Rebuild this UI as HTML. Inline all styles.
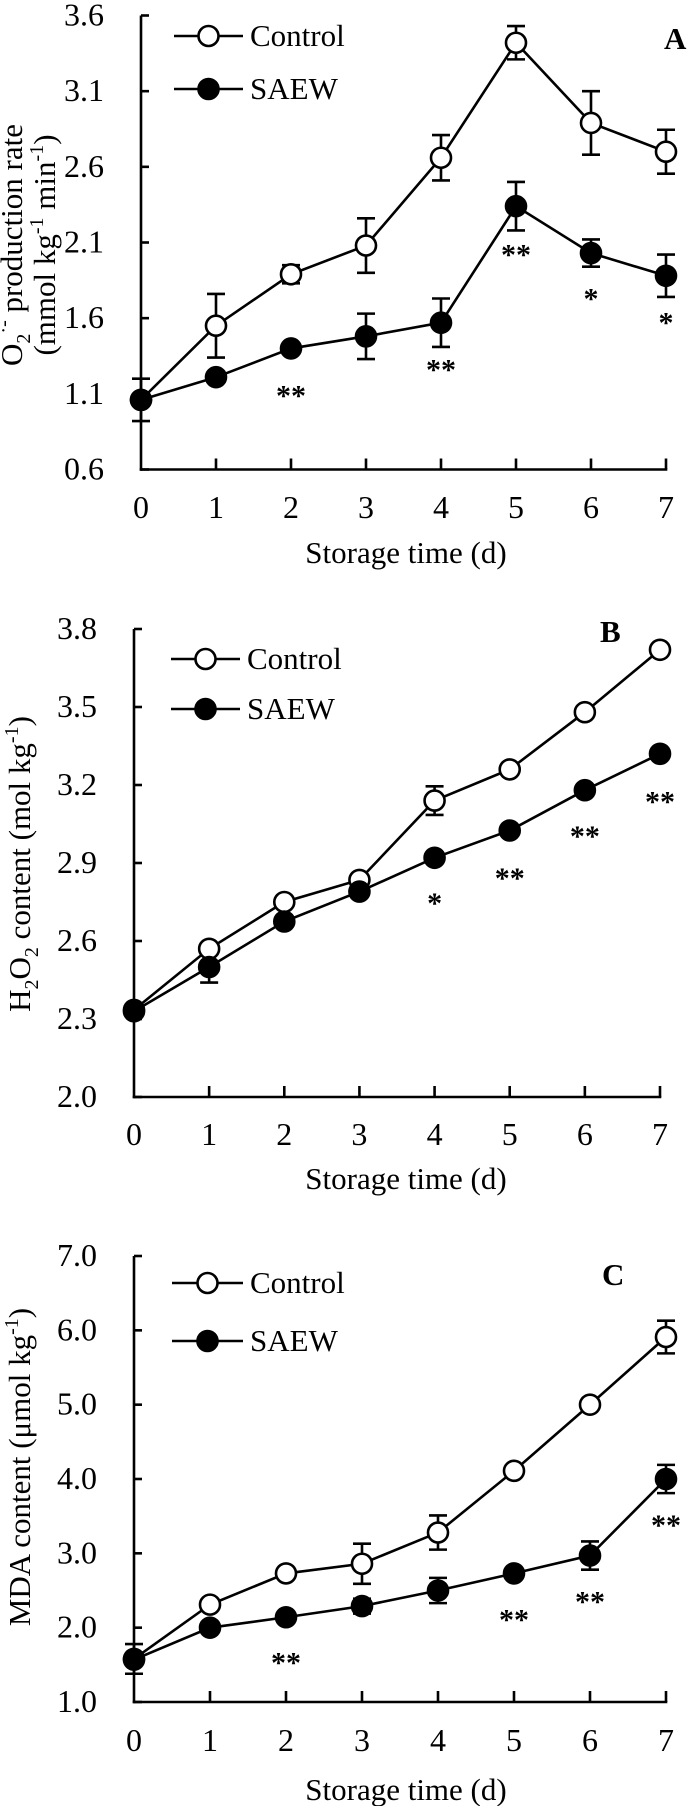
<!DOCTYPE html>
<html><head><meta charset="utf-8"><style>
html,body{margin:0;padding:0;background:#fff}
svg{display:block}
text{font-family:"Liberation Serif",serif;fill:#000}
</style></head><body>
<svg id="fig" width="691" height="1806" viewBox="0 0 691 1806" xmlns="http://www.w3.org/2000/svg"></svg>
<script>
const days = [0,1,2,3,4,5,6,7];
const xTickLabels = ["0","1","2","3","4","5","6","7"];
// Panel A
const aControl = [1.06,1.55,1.89,2.08,2.66,3.42,2.89,2.70];
const aControlErr = [0.03,0.21,0.06,0.18,0.15,0.11,0.21,0.145];
const aSaew = [1.06,1.21,1.40,1.48,1.57,2.34,2.03,1.88];
const aSaewErr = [0.14,0.03,0.03,0.15,0.16,0.16,0.09,0.14];
const aYTicks = ["0.6","1.1","1.6","2.1","2.6","3.1","3.6"];
const aStars = [[2,"**",1.13],[4,"**",1.30],[5,"**",2.06],[6,"*",1.77],[7,"*",1.61]];
// Panel B
const bControl = [2.335,2.57,2.75,2.835,3.14,3.26,3.48,3.72];
const bControlErr = [0.01,0.02,0.01,0.02,0.055,0.015,0.02,0.02];
const bSaew = [2.33,2.50,2.675,2.79,2.92,3.025,3.18,3.32];
const bSaewErr = [0.02,0.06,0.01,0.02,0.01,0.01,0.01,0.01];
const bYTicks = ["2.0","2.3","2.6","2.9","3.2","3.5","3.8"];
const bStars = [[4,"*",2.77],[5,"**",2.865],[6,"**",3.027],[7,"**",3.16]];
// Panel C
const cControl = [1.58,2.31,2.73,2.86,3.28,4.11,5.00,5.91];
const cControlErr = [0.2,0.05,0.04,0.27,0.23,0.05,0.06,0.22];
const cSaew = [1.57,2.00,2.14,2.29,2.50,2.73,2.97,4.00];
const cSaewErr = [0.05,0.03,0.03,0.1,0.17,0.03,0.19,0.19];
const cYTicks = ["1.0","2.0","3.0","4.0","5.0","6.0","7.0"];
const cStars = [[2,"**",1.61],[5,"**",2.19],[6,"**",2.43],[7,"**",3.46]];

const NS="http://www.w3.org/2000/svg";
const svg=document.getElementById('fig');
function mk(tag,attrs,parent){const e=document.createElementNS(NS,tag);for(const k in attrs)e.setAttribute(k,attrs[k]);(parent||svg).appendChild(e);return e;}

function panel(cfg){
  const g=mk('g',{});
  
  
  const ymin=parseFloat(cfg.yTicks[0]), ymax=parseFloat(cfg.yTicks[cfg.yTicks.length-1]);
  const X=d=>cfg.x0+(cfg.x7-cfg.x0)*d/7;
  const Y=v=>cfg.yBot-(cfg.yBot-cfg.yTop)*(v-ymin)/(ymax-ymin);
  const sw=2.6;
  const ya=mk('line',{x1:cfg.x0,y1:cfg.yTop,x2:cfg.x0,y2:cfg.yBot+1.3,stroke:'#000','stroke-width':sw},g);
  
  
  const xa=mk('line',{x1:cfg.x0-1.3,y1:cfg.yBot,x2:cfg.x7+1.3,y2:cfg.yBot,stroke:'#000','stroke-width':sw},g);
  
  
  cfg.yTicks.forEach(t=>{
    const y=Y(parseFloat(t));
    mk('line',{x1:cfg.x0,y1:y,x2:cfg.x0+8,y2:y,stroke:'#000','stroke-width':sw},g);
    const tx=mk('text',{x:cfg.labelRight,y:y+10,'font-size':32,'text-anchor':'end'},g);
    tx.textContent=t;
    
    
  });
  days.forEach((d,i)=>{
    const x=X(d);
    if(i>0) mk('line',{x1:x,y1:cfg.yBot,x2:x,y2:cfg.yBot-11,stroke:'#000','stroke-width':sw},g);
    const tx=mk('text',{x:x,y:cfg.xLabY,'font-size':32,'text-anchor':'middle'},g);
    tx.textContent=xTickLabels[i];
    
    
  });
  const xt=mk('text',{x:406,y:cfg.xTitleY,'font-size':31,'text-anchor':'middle'},g);
  xt.textContent='Storage time (d)';
  
  
  cfg.yTitle(g);
  [[cfg.ctrl,cfg.ctrlErr,'control'],[cfg.saew,cfg.saewErr,'saew']].forEach(([vals,errs,nm])=>{
    vals.forEach((v,i)=>{
      const x=X(days[i]),e=errs[i];
      const eb=mk('path',{d:`M${x},${Y(v+e)}V${Y(v-e)}M${x-9},${Y(v+e)}H${x+9}M${x-9},${Y(v-e)}H${x+9}`,stroke:'#000','stroke-width':sw,fill:'none'},g);
      
      
    });
    const pl=mk('polyline',{points:vals.map((v,i)=>X(days[i])+','+Y(v)).join(' '),stroke:'#000','stroke-width':sw,fill:'none'},g);
    
    
  });
  [[cfg.ctrl,'#fff','control'],[cfg.saew,'#000','saew']].forEach(([vals,fill,nm])=>{
    vals.forEach((v,i)=>{
      const c=mk('circle',{cx:X(days[i]),cy:Y(v),r:10,fill:fill,stroke:'#000','stroke-width':2.6},g);
      
      
    });
  });
  cfg.stars.forEach(s=>{
    const t=mk('text',{x:X(s[0]),y:Y(s[2])+16,'font-size':30,'text-anchor':'middle','font-weight':'bold'},g);
    t.textContent=s[1];
    
    
  });
  [[cfg.legY[0],'#fff','Control'],[cfg.legY[1],'#000','SAEW']].forEach(([y,fill,label])=>{
    const lg=mk('g',{},g);
    
    
    mk('line',{x1:cfg.legX[0],y1:y,x2:cfg.legX[1],y2:y,stroke:'#000','stroke-width':sw},lg);
    mk('circle',{cx:(cfg.legX[0]+cfg.legX[1])/2,cy:y,r:10,fill:fill,stroke:'#000','stroke-width':2.6},lg);
    const t=mk('text',{x:cfg.legX[1]+7,y:y+10,'font-size':31},lg);
    t.textContent=label;
  });
  const L=mk('text',{x:cfg.letter[0],y:cfg.letter[1]+11,'font-size':31,'font-weight':'bold'},g);
  L.textContent=cfg.id;
  
  
}

panel({id:'A',x0:141,x7:666,yTop:15.5,yBot:469.5,yTicks:aYTicks,labelRight:104,xLabY:518,xTitleY:563,
  ctrl:aControl,ctrlErr:aControlErr,saew:aSaew,saewErr:aSaewErr,stars:aStars,
  legY:[36,89],legX:[174,243],letter:[664,38],
  yTitle:g=>{
    const t=mk('text',{transform:'translate(22,245) rotate(-90)','font-size':31,'text-anchor':'middle'},g);
    
    
    t.innerHTML='O<tspan font-size="20" dy="8">2</tspan><tspan font-size="20" dy="-20">·-</tspan><tspan dy="12"> production rate</tspan>';
    const t2=mk('text',{transform:'translate(55,245) rotate(-90)','font-size':31,'text-anchor':'middle'},g);
    
    
    t2.innerHTML='(mmol kg<tspan font-size="20" dy="-12">-1</tspan><tspan dy="12"> min</tspan><tspan font-size="20" dy="-12">-1</tspan><tspan dy="12">)</tspan>';
  }});
panel({id:'B',x0:134,x7:660,yTop:629,yBot:1097,yTicks:bYTicks,labelRight:97,xLabY:1145,xTitleY:1189,
  ctrl:bControl,ctrlErr:bControlErr,saew:bSaew,saewErr:bSaewErr,stars:bStars,
  legY:[659,709],legX:[171,240],letter:[600,631],
  yTitle:g=>{
    const t=mk('text',{transform:'translate(30,864) rotate(-90)','font-size':31,'text-anchor':'middle'},g);
    
    
    t.innerHTML='H<tspan font-size="20" dy="8">2</tspan><tspan dy="-8">O</tspan><tspan font-size="20" dy="8">2</tspan><tspan dy="-8"> content (mol kg</tspan><tspan font-size="20" dy="-12">-1</tspan><tspan dy="12">)</tspan>';
  }});
panel({id:'C',x0:134,x7:666,yTop:1256,yBot:1702,yTicks:cYTicks,labelRight:97,xLabY:1751,xTitleY:1800,
  ctrl:cControl,ctrlErr:cControlErr,saew:cSaew,saewErr:cSaewErr,stars:cStars,
  legY:[1283,1341],legX:[172,243],letter:[602,1274],
  yTitle:g=>{
    const t=mk('text',{transform:'translate(30,1467) rotate(-90)','font-size':31,'text-anchor':'middle'},g);
    
    
    t.innerHTML='MDA content (μmol kg<tspan font-size="20" dy="-12">-1</tspan><tspan dy="12">)</tspan>';
  }});
</script>
</body></html>
